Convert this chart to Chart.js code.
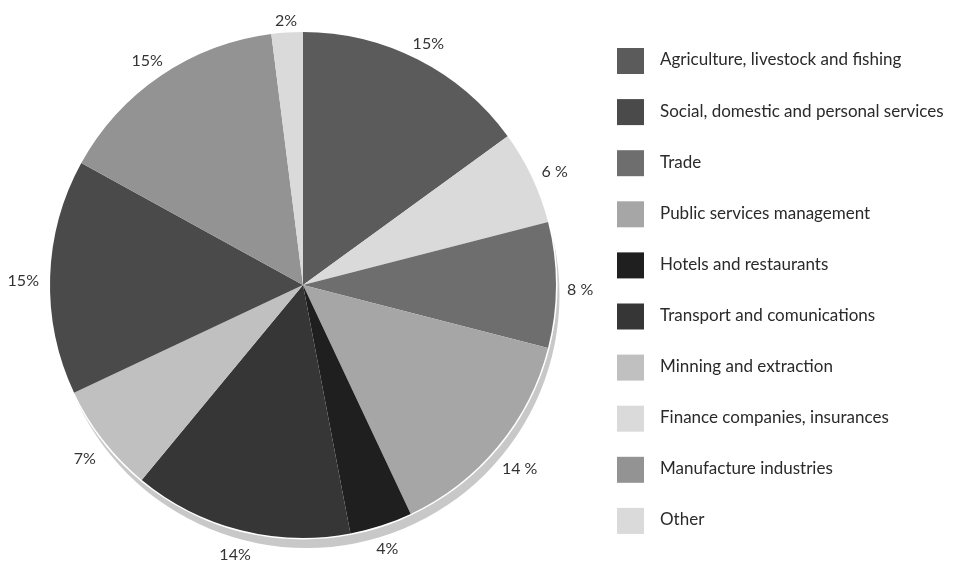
<!DOCTYPE html>
<html>
<head>
<meta charset="utf-8">
<title>Employment by sector</title>
<style>
  html, body { margin: 0; padding: 0; background: #ffffff; }
  #wrap { width: 955px; height: 563px; position: relative; }
</style>
<script src="https://cdn.jsdelivr.net/npm/chart.js@4.4.0/dist/chart.umd.min.js"></script>
</head>
<body>
<div id="wrap"><canvas id="c" width="955" height="563"></canvas></div>
<script>
// Slices, clockwise from 12 o'clock
const sectors = [
  'Agriculture, livestock and fishing',
  'Finance companies, insurances',
  'Trade',
  'Public services management',
  'Hotels and restaurants',
  'Transport and comunications',
  'Minning and extraction',
  'Social, domestic and personal services',
  'Manufacture industries',
  'Other'
];
const shares = [15, 6, 8, 14, 4, 14, 7, 15, 15, 2];
const percentSuffix = ['%', ' %', ' %', ' %', '%', '%', '%', '%', '%', '%'];
const sectorColors = ['#5b5b5b', '#dadada', '#6e6e6e', '#a6a6a6', '#1f1f1f',
                      '#363636', '#c0c0c0', '#4a4a4a', '#939393', '#dadada'];

// Order of entries in the key on the right
const legendOrder = [
  'Agriculture, livestock and fishing',
  'Social, domestic and personal services',
  'Trade',
  'Public services management',
  'Hotels and restaurants',
  'Transport and comunications',
  'Minning and extraction',
  'Finance companies, insurances',
  'Manufacture industries',
  'Other'
];

const FONT = 'Lato, "Open Sans", sans-serif';

// Soft grey drop shadow under the lower-right rim of the pie
const pieShadow = {
  id: 'pieShadow',
  beforeDatasetsDraw(chart) {
    const arc = chart.getDatasetMeta(0).data[0];
    if (!arc) return;
    const { x, y, outerRadius } = arc.getProps(['x', 'y', 'outerRadius'], true);
    const ctx = chart.ctx;
    ctx.save();
    ctx.fillStyle = '#c8c8c8';
    ctx.beginPath();
    ctx.arc(x + 3.5, y + 10, outerRadius, 0, Math.PI * 2);
    ctx.fill();
    ctx.fillStyle = '#ffffff';
    ctx.beginPath();
    ctx.arc(x, y, outerRadius + 1.5, 0, Math.PI * 2);
    ctx.fill();
    ctx.restore();
  }
};

// Percentage labels just outside each slice; the text box is pushed out
// so that its nearest edge sits a fixed gap beyond the rim (measured from
// a point slightly below the centre, which accounts for the shadow side).
const sliceLabels = {
  id: 'sliceLabels',
  afterDatasetsDraw(chart) {
    const ctx = chart.ctx;
    const meta = chart.getDatasetMeta(0);
    const values = chart.data.datasets[0].data;
    const gap = 11;
    const halfH = 5.5;
    const drop = 5;
    ctx.save();
    ctx.font = '16px ' + FONT;
    ctx.fillStyle = '#333333';
    ctx.textAlign = 'center';
    ctx.textBaseline = 'middle';
    meta.data.forEach((arc, i) => {
      const p = arc.getProps(['x', 'y', 'startAngle', 'endAngle', 'outerRadius'], true);
      const mid = (p.startAngle + p.endAngle) / 2;
      const text = values[i] + percentSuffix[i];
      const halfW = ctx.measureText(text).width / 2;
      const dx = Math.cos(mid), dy = Math.sin(mid);
      const r = p.outerRadius + gap + halfW * Math.abs(dx) + halfH * Math.abs(dy);
      ctx.fillText(text, p.x + dx * r, p.y + drop + dy * r);
    });
    ctx.restore();
  }
};

// Key with square swatches stacked on the right
const sideLegend = {
  id: 'sideLegend',
  afterDraw(chart) {
    const ctx = chart.ctx;
    const colors = chart.data.datasets[0].backgroundColor;
    const left = chart.chartArea.right + 61;
    const top = 48;
    const step = 51.1;
    ctx.save();
    ctx.font = '17px ' + FONT;
    ctx.textAlign = 'left';
    ctx.textBaseline = 'middle';
    legendOrder.forEach((name, row) => {
      const idx = chart.data.labels.indexOf(name);
      const y = top + row * step;
      ctx.fillStyle = colors[idx];
      ctx.fillRect(left, y, 27, 26);
      ctx.fillStyle = '#2a2a2a';
      ctx.fillText(name, left + 43, y + 12);
    });
    ctx.restore();
  }
};

new Chart(document.getElementById('c'), {
  type: 'pie',
  data: {
    labels: sectors,
    datasets: [{
      data: shares,
      backgroundColor: sectorColors,
      borderWidth: 0
    }]
  },
  options: {
    responsive: false,
    animation: false,
    layout: { padding: { left: 50, right: 399, top: 32, bottom: 25 } },
    plugins: {
      legend: { display: false },
      tooltip: { enabled: false }
    }
  },
  plugins: [pieShadow, sliceLabels, sideLegend]
});
</script>
</body>
</html>
